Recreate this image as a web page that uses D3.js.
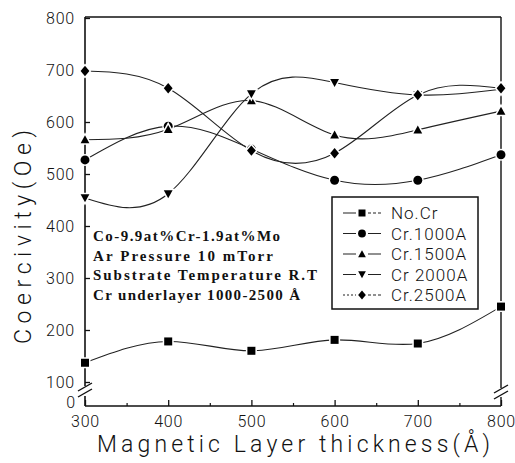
<!DOCTYPE html>
<html><head><meta charset="utf-8">
<script src="https://cdn.jsdelivr.net/npm/d3@7"></script>
<style>
html,body{margin:0;padding:0;background:#fff;}
svg{display:block;}
</style></head>
<body>
<svg id="chart" width="515" height="463"></svg>
<script>
// ---- data ----
const thickness = [300, 400, 500, 600, 700, 800];
const seriesNames = ["No.Cr", "Cr.1000A", "Cr.1500A", "Cr 2000A", "Cr.2500A"];
const noCr    = [137, 178, 160, 181, 174, 245];
const cr1000  = [527, 592, 548, 488, 488, 537];
const cr1500  = [566, 586, 641, 575, 585, 621];
const cr2000  = [454, 462, 654, 676, 652, 663];
const cr2500  = [698, 665, 545, 540, 652, 665];
const symbolsUsed = ["square", "circle", "triangle", "triangleDown", "diamond"];
const yTicks = [100, 200, 300, 400, 500, 600, 700, 800];
const xTicks = [300, 400, 500, 600, 700, 800];
const xMinorTicks = [350, 450, 550, 650, 750];
const yBreakLabel = "0";
const annotations = ["Co-9.9at%Cr-1.9at%Mo", "Ar Pressure  10 mTorr", "Substrate Temperature  R.T", "Cr underlayer 1000-2500 Å"];
const yTitle = "Coercivity(Oe)";
const xTitle = "Magnetic Layer thickness(Å)";

const allSeries = [noCr, cr1000, cr1500, cr2000, cr2500];

// ---- layout ----
const L = 85, R = 501, T = 17, B = 406;
const SANS = "Roboto, 'Liberation Sans', Arial, sans-serif";
const svg = d3.select("#chart");
const x = d3.scaleLinear().domain([300, 800]).range([L, R]);
const y = d3.scaleLinear().domain([100, 800]).range([382, 18]);
const ink = "#111";

// frame
const g = svg.append("g");
g.append("line").attr("x1", L).attr("x2", R).attr("y1", T).attr("y2", T).attr("stroke", ink).attr("stroke-width", 1.4);
g.append("line").attr("x1", R).attr("x2", R).attr("y1", T).attr("y2", 388).attr("stroke", ink).attr("stroke-width", 1.4);
g.append("line").attr("x1", R).attr("x2", R).attr("y1", 397).attr("y2", B).attr("stroke", ink).attr("stroke-width", 1.4);
g.append("line").attr("x1", L).attr("x2", L).attr("y1", T).attr("y2", 386).attr("stroke", ink).attr("stroke-width", 1.6);
g.append("line").attr("x1", L).attr("x2", L).attr("y1", 396).attr("y2", B).attr("stroke", ink).attr("stroke-width", 1.6);
g.append("line").attr("x1", L).attr("x2", R).attr("y1", B).attr("y2", B).attr("stroke", ink).attr("stroke-width", 1.6);
// break marks
[[L, 390], [R, 392]].forEach(([bx, by]) => {
  [-3, 3].forEach(d => {
    g.append("line").attr("x1", bx - 7).attr("y1", by + d + 4).attr("x2", bx + 7).attr("y2", by + d - 4)
      .attr("stroke", ink).attr("stroke-width", 1.4);
  });
});

// y axis
const yAxis = d3.axisLeft(y).tickValues(yTicks).tickSize(-5).tickPadding(10).tickSizeOuter(0);
const ya = svg.append("g").attr("transform", `translate(${L},0)`).call(yAxis);
ya.select(".domain").remove();
ya.selectAll("line").attr("stroke", ink).attr("stroke-width", 1.3);
ya.selectAll("text").attr("font-family", SANS).attr("font-weight", 300).attr("font-size", 16).attr("fill", "#111").attr("letter-spacing", 0.8);
svg.append("text").attr("x", 75).attr("y", 404).attr("text-anchor", "end").attr("dominant-baseline", "middle")
  .attr("font-family", SANS).attr("font-weight", 300).attr("font-size", 16).attr("fill", "#111").text(yBreakLabel);

// x axis
const xAxis = d3.axisBottom(x).tickValues(xTicks).tickSize(-6).tickPadding(10).tickSizeOuter(0);
const xa = svg.append("g").attr("transform", `translate(0,${B})`).call(xAxis);
xa.select(".domain").remove();
xa.selectAll("line").attr("stroke", ink).attr("stroke-width", 1.3);
xa.selectAll("text").attr("font-family", SANS).attr("font-weight", 300).attr("font-size", 16).attr("fill", "#111").attr("letter-spacing", 0.8);
const xm = svg.append("g").attr("transform", `translate(0,${B})`).call(d3.axisBottom(x).tickValues(xMinorTicks).tickSize(-3).tickFormat(""));
xm.select(".domain").remove();
xm.selectAll("line").attr("stroke", ink).attr("stroke-width", 1.2);

// titles
svg.append("text").attr("transform", "translate(31,237) rotate(-90)").attr("text-anchor", "middle")
  .attr("font-family", SANS).attr("font-weight", 300).attr("font-size", 23).attr("fill", "#111")
  .attr("textLength", 214).attr("lengthAdjust", "spacing").text(yTitle);
svg.append("text").attr("x", 97).attr("y", 452)
  .attr("font-family", SANS).attr("font-weight", 300).attr("font-size", 23).attr("fill", "#111")
  .attr("textLength", 393).attr("lengthAdjust", "spacing").text(xTitle);

// annotations
const annLens = [187, 180, 224, 207];
annotations.forEach((t, i) => {
  svg.append("text").attr("x", 93).attr("y", 241 + i * 19.5)
    .attr("font-family", "'Liberation Serif', 'Times New Roman', serif").attr("font-weight", "bold").attr("font-size", 15)
    .attr("fill", "#111").attr("textLength", annLens[i]).attr("lengthAdjust", "spacing").text(t);
});

// symbols
function symPath(kind, s) {
  switch (kind) {
    case "square": return `M${-s},${-s}H${s}V${s}H${-s}Z`;
    case "circle": return d3.symbol(d3.symbolCircle, Math.PI * s * s * 1.25)();
    case "triangle": return `M0,${-s * 1.1}L${s * 1.1},${s * 0.9}L${-s * 1.1},${s * 0.9}Z`;
    case "triangleDown": return `M0,${s * 1.1}L${s * 1.1},${-s * 0.9}L${-s * 1.1},${-s * 0.9}Z`;
    case "diamond": return `M0,${-s * 1.3}L${s * 1.1},0L0,${s * 1.3}L${-s * 1.1},0Z`;
  }
}

// lines
const line = d3.line().x((d, i) => x(thickness[i])).y(d => y(d)).curve(d3.curveNatural);
const plot = svg.append("g");
allSeries.forEach((vals, si) => {
  plot.append("path").attr("d", line(vals)).attr("fill", "none").attr("stroke", "#222").attr("stroke-width", 1.1);
});
allSeries.forEach((vals, si) => {
  plot.selectAll(null).data(vals).enter().append("path")
    .attr("transform", (d, i) => `translate(${x(thickness[i])},${y(d)})`)
    .attr("d", symPath(symbolsUsed[si], 4))
    .attr("fill", "#000").attr("stroke", "#fff").attr("stroke-width", 3).attr("paint-order", "stroke");
});

// legend
const lg = svg.append("g");
lg.append("rect").attr("x", 332).attr("y", 197).attr("width", 146).attr("height", 112)
  .attr("fill", "#fff").attr("stroke", ink).attr("stroke-width", 1.5);
const dashes = ["7,0", "7,0", "7,0", "7,0", "2,2"];
seriesNames.forEach((name, i) => {
  const ly = 213 + i * 20.5;
  lg.append("line").attr("x1", 343).attr("x2", 356).attr("y1", ly).attr("y2", ly).attr("stroke", "#222").attr("stroke-width", 1.2).attr("stroke-dasharray", dashes[i]);
  lg.append("line").attr("x1", 368).attr("x2", 381).attr("y1", ly).attr("y2", ly).attr("stroke", "#222").attr("stroke-width", 1.2).attr("stroke-dasharray", i === 0 || i === 4 ? "3,2" : "7,0");
  lg.append("path").attr("transform", `translate(362,${ly})`).attr("d", symPath(symbolsUsed[i], 3.5)).attr("fill", "#000");
  lg.append("text").attr("x", 391).attr("y", ly).attr("dominant-baseline", "central")
    .attr("font-family", SANS).attr("font-weight", 300).attr("font-size", 17).attr("fill", "#111")
    .attr("letter-spacing", 1).text(name);
});
</script>
</body></html>
